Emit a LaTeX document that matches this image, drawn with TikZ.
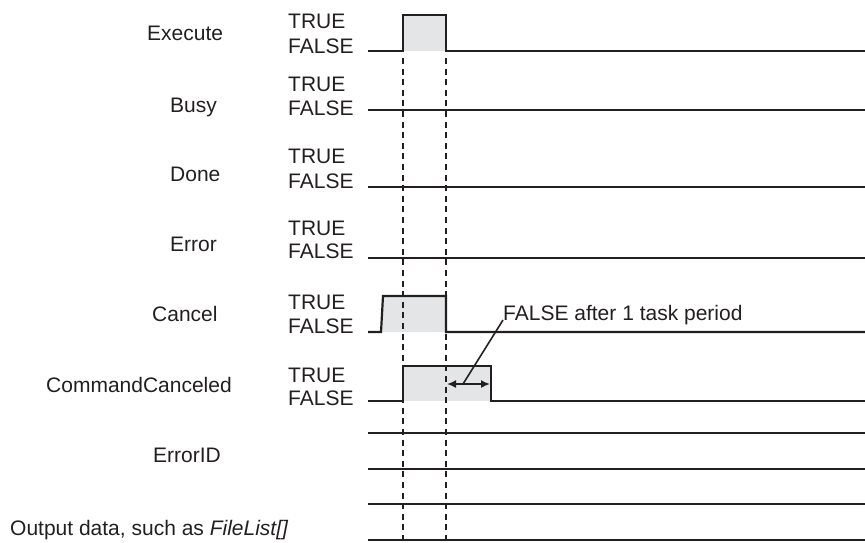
\documentclass[tikz,border=0pt]{standalone}
\usepackage{fontspec}
\setmainfont{Liberation Sans}
\usetikzlibrary{arrows.meta}
\definecolor{ink}{HTML}{231F20}
\definecolor{shadegray}{HTML}{E4E5E6}
\begin{document}
\begin{tikzpicture}[x=1pt,y=-1pt,
  lbl/.style={anchor=base west, inner sep=0pt, font=\fontsize{21}{25}\selectfont, text=ink},
  sig/.style={draw=ink, line width=2.2pt},
  guide/.style={draw=ink, line width=2.2pt, dash pattern=on 6pt off 4.6pt},
  dimarrow/.style={draw=ink, line width=1.6pt, {Latex[length=9pt,width=8pt]}-{Latex[length=9pt,width=8pt]}},
  leader/.style={draw=ink, line width=1.6pt}]
\useasboundingbox (0,0) rectangle (865,542);

% signal names
\node[lbl] (nExec) at (147,40) {Execute};
\node[lbl] (nBusy) at (170,112) {Busy};
\node[lbl] (nDone) at (170,181.7) {Done};
\node[lbl] (nErr) at (170,251.7) {Error};
\node[lbl] (nCancel) at (152,321.7) {Cancel};
\node[lbl] (nCC) at (46,392.7) {CommandCanceled};
\node[lbl] (nEID) at (153,462.7) {ErrorID};
\node[lbl] (nOut) at (10,535) {Output data, such as \textit{FileList[]}};

% TRUE / FALSE
\node[lbl] (t1) at (288,28) {TRUE};   \node[lbl] (f1) at (288,53) {FALSE};
\node[lbl] (t2) at (288,91) {TRUE};   \node[lbl] (f2) at (288,115) {FALSE};
\node[lbl] (t3) at (288,163) {TRUE};  \node[lbl] (f3) at (288,188) {FALSE};
\node[lbl] (t4) at (288,235) {TRUE};  \node[lbl] (f4) at (288,258) {FALSE};
\node[lbl] (t5) at (288,309) {TRUE};  \node[lbl] (f5) at (288,333) {FALSE};
\node[lbl] (t6) at (288,382) {TRUE};  \node[lbl] (f6) at (288,405) {FALSE};

% shaded pulses
\fill[shadegray] (403,15) rectangle (446,51);
\fill[shadegray] (381,332) -- (383,296) -- (446,296) -- (446,332) -- cycle;
\fill[shadegray] (403,366) rectangle (491,401);

% waveforms
\draw[sig] (368,51) -- (403,51) -- (403,15) -- (446,15) -- (446,51) -- (865,51);
\draw[sig] (368,110) -- (865,110);
\draw[sig] (368,187) -- (865,187);
\draw[sig] (368,258) -- (865,258);
\draw[sig] (368,332) -- (381,332) -- (383,296) -- (446,296) -- (446,332) -- (865,332);
\draw[sig] (368,401) -- (403,401) -- (403,366) -- (491,366) -- (491,401) -- (865,401);
\draw[sig] (368,433) -- (865,433);
\draw[sig] (368,469) -- (865,469);
\draw[sig] (368,504) -- (865,504);
\draw[sig] (368,540) -- (865,540);

% dashed guides
\draw[guide] (403,58) -- (403,540);
\draw[guide] (446,58) -- (446,540);

% annotation
\coordinate (aL) at (447,384);
\coordinate (aR) at (490,384);
\draw[dimarrow] (aL) -- (aR);
\node[lbl] (note) at (503,320) {FALSE after 1 task period};
\coordinate (ld) at (463,384);
\draw[leader] (ld) -- (note.base west);
\end{tikzpicture}
\end{document}
